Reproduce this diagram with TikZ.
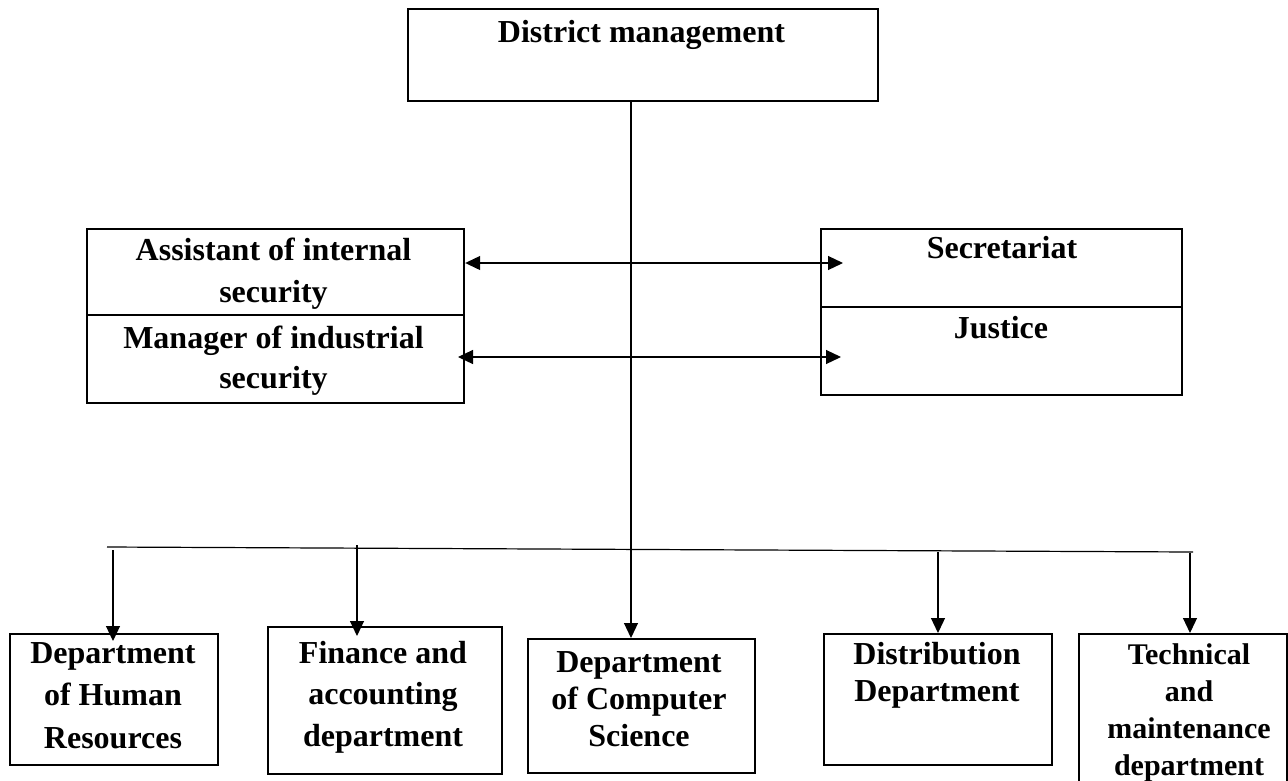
\documentclass[tikz,border=0pt]{standalone}
\usepackage{fontspec}
\setmainfont{Liberation Serif}
\usetikzlibrary{arrows.meta}
\begin{document}
\begin{tikzpicture}[x=1pt, y=-1pt,
  unitbox/.style={draw, line width=2.2pt, inner sep=0pt, anchor=north west},
  txt/.style={anchor=north, align=center, inner sep=0pt,
    font=\bfseries\fontsize{32}{#1}\selectfont},
  txt/.default=42,
  wire/.style={line width=1.2pt},
  onearrow/.style={-{Triangle[length=15pt,width=14pt]}},
  twoarrow/.style={{Triangle[length=15pt,width=14pt]}-{Triangle[length=15pt,width=14pt]}}
]
\useasboundingbox (0,0) rectangle (1288,780);

% ---- boxes ----
\node[unitbox, minimum width=470pt, minimum height=92pt]  (top)  at (407,8)   {};
\node[unitbox, minimum width=377pt, minimum height=86pt]  (asst) at (86,228)  {};
\node[unitbox, minimum width=377pt, minimum height=88pt]  (mgr)  at (86,314)  {};
\node[unitbox, minimum width=361pt, minimum height=78pt]  (secr) at (820,228) {};
\node[unitbox, minimum width=361pt, minimum height=88pt]  (just) at (820,306) {};
\node[unitbox, minimum width=208pt, minimum height=131pt] (hr)   at (9,633)   {};
\node[unitbox, minimum width=234pt, minimum height=147pt] (fin)  at (267,626) {};
\node[unitbox, minimum width=227pt, minimum height=134pt] (cs)   at (527,638) {};
\node[unitbox, minimum width=228pt, minimum height=131pt] (dist) at (823,633) {};
\node[unitbox, minimum width=208pt, minimum height=170pt] (tech) at (1078,633) {};

% ---- labels ----
\node[txt] (tTop)  at (641.5,20) {District management};
\node[txt] (tAsst) at (273.5,238) {Assistant of internal\\security};
\node[txt=40] (tMgr) at (273.5,326) {Manager of industrial\\security};
\node[txt] (tSecr) at (1002,236) {Secretariat};
\node[txt] (tJust) at (1001,316) {Justice};
\node[txt=42.5] (tHr)  at (113,642) {Department\\of Human\\Resources};
\node[txt=41.5] (tFin) at (383,641) {Finance and\\accounting\\department};
\node[txt=37] (tCs)   at (639,651) {Department\\of Computer\\Science};
\node[txt=37] (tDist) at (937,642) {Distribution\\Department};
\node[txt=37, font=\bfseries\fontsize{30}{37}\selectfont] (tTech) at (1189,643)
  {Technical\\and\\maintenance\\department};

% ---- connectors ----
\coordinate (spine) at (631,0);
\draw[wire, onearrow] (top.south -| spine) -- (cs.north -| spine);

\coordinate (secrIn) at (843,263);
\coordinate (justIn) at (841,357);
\coordinate (mgrIn)  at (458,357);
\draw[wire, twoarrow] (asst.east |- secrIn) -- (secrIn);
\draw[wire, twoarrow] (mgrIn) -- (justIn);

\coordinate (busL) at (107,547);
\coordinate (busR) at (1193,552);
\draw[wire] (busL) -- (busR);

\coordinate (d1) at (113,550);
\coordinate (d2) at (357,545);
\coordinate (d4) at (938,552);
\coordinate (d5) at (1190,553);
\draw[wire, onearrow, shorten >=-8pt] (d1) -- (hr.north -| d1);
\draw[wire, onearrow, shorten >=-10pt] (d2) -- (fin.north -| d2);
\draw[wire, onearrow] (d4) -- (dist.north -| d4);
\draw[wire, onearrow] (d5) -- (tech.north -| d5);
\end{tikzpicture}
\end{document}
